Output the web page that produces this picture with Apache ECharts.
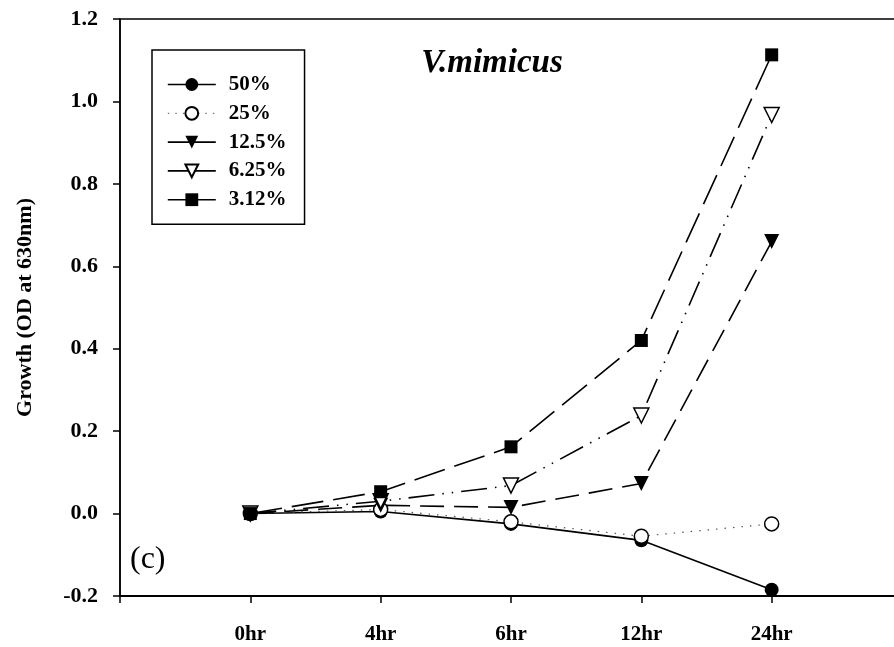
<!DOCTYPE html>
<html>
<head>
<meta charset="utf-8">
<script src="https://cdn.jsdelivr.net/npm/echarts@6/dist/echarts.min.js"></script>
<style>
  html, body { margin: 0; padding: 0; background: #fff; overflow: hidden; }
  #chart { width: 894px; height: 647px; }
</style>
</head>
<body>
<div id="chart"></div>
<script>
// Sampling times along the x axis
const timePoints = ['0hr', '4hr', '6hr', '12hr', '24hr'];

// Growth (OD at 630nm) per concentration
const conc50 = [0.0, 0.005, -0.025, -0.065, -0.185];
const conc25 = [0.0, 0.01, -0.02, -0.055, -0.025];
const conc12_5 = [0.0, 0.02, 0.015, 0.073, 0.66];
const conc6_25 = [0.0, 0.03, 0.068, 0.238, 0.967];
const conc3_12 = [0.0, 0.053, 0.162, 0.42, 1.113];

const seriesNames = ['50%', '25%', '12.5%', '6.25%', '3.12%'];
const yTicks = { min: -0.2, max: 1.2, step: 0.2 };

const serif = '"Liberation Serif", "DejaVu Serif", serif';

// Pair each value with its position (1..n) on the numeric x axis
function toPoints(values) {
  return values.map((v, i) => [i + 1, v]);
}

const chart = echarts.init(document.getElementById('chart'));

function lineSeries(name, values, opts) {
  return {
    name: name,
    type: 'line',
    data: toPoints(values),
    symbol: opts.symbol,
    symbolSize: opts.size,
    symbolRotate: opts.rotate || 0,
    itemStyle: {
      color: opts.fill,
      borderColor: '#000',
      borderWidth: opts.fill === '#fff' ? 1.5 : 0
    },
    lineStyle: {
      color: opts.lineColor || '#000',
      width: opts.lineWidth || 1.6,
      type: opts.dash
    },
    emphasis: { disabled: true },
    animation: false,
    z: opts.z
  };
}

// Legend entries show solid sample lines, except the dotted 25% entry
const legendData = seriesNames.map((n) => ({
  name: n,
  lineStyle: n === '25%'
    ? { type: [1.5, 6], color: '#777', width: 1.2 }
    : { type: 'solid', color: '#000', width: 1.6 }
}));

chart.setOption({
  backgroundColor: '#fff',
  animation: false,
  title: {
    text: 'V.mimicus',
    left: 487,
    top: 42,
    textAlign: 'center',
    textStyle: {
      fontFamily: serif,
      fontStyle: 'italic',
      fontWeight: 'bold',
      fontSize: 33,
      color: '#000'
    }
  },
  graphic: [{
    type: 'text',
    left: 130,
    top: 544,
    style: {
      text: '(c)',
      font: '32px ' + serif,
      fill: '#000'
    }
  }],
  legend: {
    orient: 'vertical',
    left: 152,
    top: 50,
    padding: [24, 18, 14, 15],
    itemGap: 7.8,
    itemWidth: 48,
    itemHeight: 16,
    borderColor: '#000',
    borderWidth: 1.5,
    selectedMode: false,
    data: legendData,
    textStyle: {
      fontFamily: serif,
      fontWeight: 'bold',
      fontSize: 21,
      color: '#000',
      padding: [0, 0, 0, 8]
    }
  },
  grid: {
    left: 120,
    width: 782,
    top: 19,
    bottom: 51,
    show: true,
    borderColor: '#000',
    borderWidth: 1.5,
    containLabel: false,
    outerBoundsMode: 'none'
  },
  xAxis: {
    type: 'value',
    min: 0,
    max: 6,
    interval: 1,
    axisLine: { onZero: false, lineStyle: { color: '#000', width: 2 } },
    axisTick: { inside: false, length: 7, lineStyle: { color: '#000', width: 1.5 } },
    splitLine: { show: false },
    axisLabel: {
      margin: 28,
      fontFamily: serif,
      fontWeight: 'bold',
      fontSize: 21,
      color: '#000',
      formatter: (v) => timePoints[v - 1] || ''
    }
  },
  yAxis: {
    type: 'value',
    min: yTicks.min,
    max: yTicks.max,
    interval: yTicks.step,
    name: 'Growth (OD at 630nm)',
    nameLocation: 'middle',
    nameGap: 84,
    nameTextStyle: {
      fontFamily: serif,
      fontWeight: 'bold',
      fontSize: 22,
      color: '#000'
    },
    axisLine: { show: true, onZero: false, lineStyle: { color: '#000', width: 1.5 } },
    axisTick: { show: true, inside: false, length: 7, lineStyle: { color: '#000', width: 1.5 } },
    splitLine: { show: false },
    axisLabel: {
      margin: 22,
      fontFamily: serif,
      fontWeight: 'bold',
      fontSize: 22,
      color: '#000',
      formatter: (v) => v.toFixed(1)
    }
  },
  series: [
    lineSeries('50%', conc50, { symbol: 'circle', size: 14, fill: '#000', dash: 'solid', z: 2 }),
    lineSeries('25%', conc25, { symbol: 'circle', size: 14, fill: '#fff', dash: [1.5, 7], lineColor: '#555', lineWidth: 1.2, z: 3 }),
    lineSeries('12.5%', conc12_5, { symbol: 'triangle', size: 15, rotate: 180, fill: '#000', dash: [24, 10], z: 4 }),
    lineSeries('6.25%', conc6_25, { symbol: 'triangle', size: 15, rotate: 180, fill: '#fff', dash: [26, 8, 1.5, 8, 1.5, 8], z: 5 }),
    lineSeries('3.12%', conc3_12, { symbol: 'rect', size: 13, fill: '#000', dash: [32, 10], z: 6 })
  ]
});
</script>
</body>
</html>
